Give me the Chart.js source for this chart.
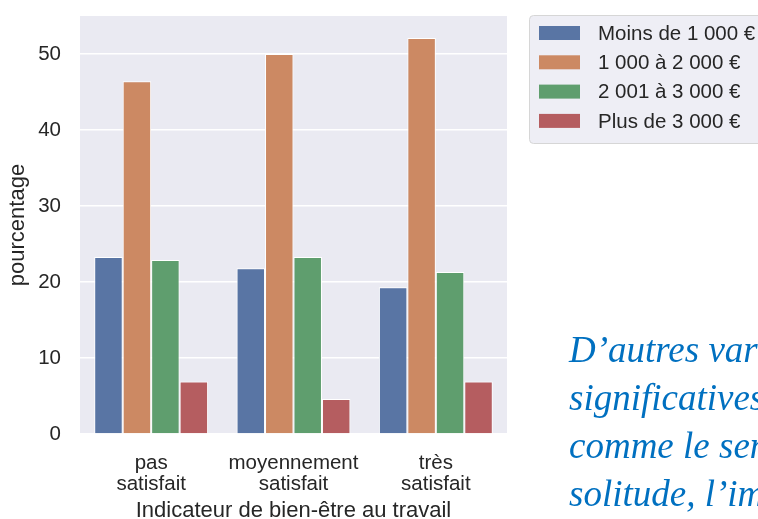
<!DOCTYPE html>
<html>
<head>
<meta charset="utf-8">
<script src="https://cdn.jsdelivr.net/npm/chart.js@4.4.0/dist/chart.umd.min.js"></script>
<style>
  html, body { margin: 0; padding: 0; background: #fff; overflow: hidden; width: 758px; height: 519px; }
  #wrap { position: relative; width: 758px; height: 519px; overflow: hidden; }
  canvas { position: absolute; left: 0; top: 0; }
  #note {
    position: absolute; left: 569px; top: 326px;
    font-family: "Liberation Serif", serif; font-style: italic;
    font-size: 37px; line-height: 48px; color: #0070c0; white-space: nowrap;
  }
</style>
</head>
<body>
<div id="wrap">
  <canvas id="canvas" width="758" height="519"></canvas>
  <div id="note">D’autres variables<br>significatives<br>comme le sentiment<br>solitude, l’importance</div>
</div>
<script>
// valeurs (pourcentages)
const categories = [["pas", "satisfait"], ["moyennement", "satisfait"], ["très", "satisfait"]];
const seriesLabels = ["Moins de 1 000 €", "1 000 à 2 000 €", "2 001 à 3 000 €", "Plus de 3 000 €"];
const moins1000 = [23.3, 21.8, 19.3];
const de1000a2000 = [46.4, 50.0, 52.1];
const de2001a3000 = [22.9, 23.3, 21.3];
const plus3000 = [6.9, 4.6, 6.9];
const yTicks = [0, 10, 20, 30, 40, 50];

const colors = ["#5975a4", "#cc8963", "#5f9e6e", "#b55d60"];
const textColor = "#262626";
const font = "Liberation Sans, Arial, sans-serif";

// fond gris façon seaborn
const plotBg = {
  id: "plotBg",
  beforeDraw(chart) {
    const { ctx, chartArea: a } = chart;
    ctx.save();
    ctx.fillStyle = "#eaeaf2";
    ctx.fillRect(a.left, a.top, a.right - a.left, a.bottom - a.top);
    ctx.restore();
  }
};

// légende à droite (coupée par le bord)
const sideLegend = {
  id: "sideLegend",
  afterDraw(chart) {
    const ctx = chart.ctx;
    const x0 = 529, y0 = 15, w = 260, h = 128;
    ctx.save();
    ctx.beginPath();
    ctx.roundRect(x0 + 0.5, y0 + 0.5, w, h, 4);
    ctx.fillStyle = "#eeeef5";
    ctx.fill();
    ctx.strokeStyle = "#d6d6d6";
    ctx.lineWidth = 1;
    ctx.stroke();
    ctx.font = "20.5px " + font;
    ctx.textBaseline = "middle";
    chart.data.datasets.forEach((ds, i) => {
      const cy = 33 + i * 29.3;
      ctx.fillStyle = ds.backgroundColor;
      ctx.fillRect(539, cy - 7, 41, 14);
      ctx.fillStyle = textColor;
      ctx.fillText(ds.label, 598, cy + 1);
    });
    ctx.restore();
  }
};

const series = [moins1000, de1000a2000, de2001a3000, plus3000];

new Chart(document.getElementById("canvas").getContext("2d"), {
  type: "bar",
  data: {
    labels: categories,
    datasets: series.map((vals, i) => ({
      label: seriesLabels[i],
      data: vals,
      backgroundColor: colors[i],
      borderColor: "#ffffff",
      borderWidth: 1,
      categoryPercentage: 0.8,
      barPercentage: 1.0
    }))
  },
  options: {
    responsive: false,
    animation: false,
    devicePixelRatio: 1,
    layout: { padding: { top: 16, right: 251, left: 0, bottom: 0 } },
    plugins: {
      legend: { display: false },
      tooltip: { enabled: false }
    },
    scales: {
      x: {
        grid: { display: false },
        border: { display: false },
        ticks: {
          color: textColor,
          font: { family: font, size: 20.5, lineHeight: 1.03 },
          padding: 11,
          maxRotation: 0
        },
        title: {
          display: true,
          text: "Indicateur de bien-être au travail",
          color: textColor,
          font: { family: font, size: 22, lineHeight: 0.75 },
          padding: { top: 0, bottom: 0 }
        },
        afterFit(scale) { scale.height = 85; }
      },
      y: {
        min: 0,
        max: 55,
        grid: { color: "#ffffff", lineWidth: 1.5, drawTicks: false },
        border: { display: false },
        ticks: {
          stepSize: 10,
          includeBounds: false,
          color: textColor,
          font: { family: font, size: 20.5 },
          padding: 19
        },
        afterBuildTicks(scale) {
          scale.ticks = yTicks.map(v => ({ value: v }));
        },
        title: {
          display: true,
          text: "pourcentage",
          color: textColor,
          font: { family: font, size: 22, lineHeight: 1 },
          padding: { top: 7, bottom: 0 }
        },
        afterFit(scale) {
          scale.width = 80;
          scale.paddingTop = 0;
          scale.paddingBottom = 0;
        }
      }
    }
  },
  plugins: [plotBg, sideLegend]
});
</script>
</body>
</html>
